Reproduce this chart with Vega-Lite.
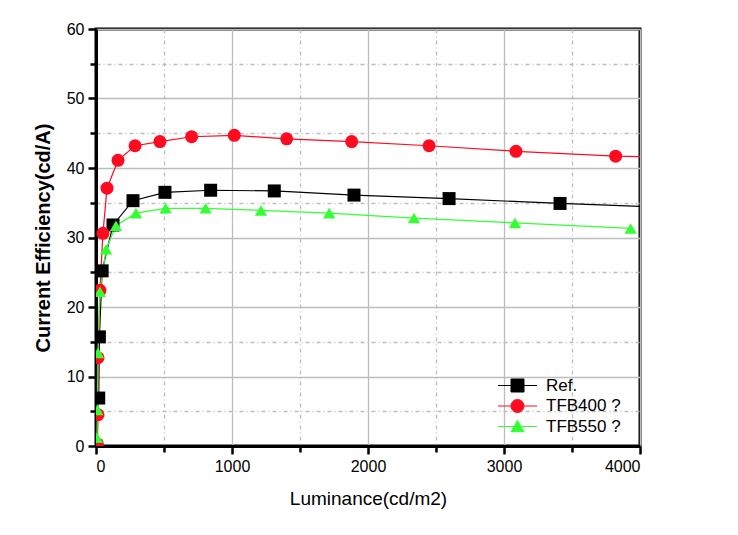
{
  "$schema": "https://vega.github.io/schema/vega-lite/v6.json",
  "autosize": {"type": "none"},
  "width": 544,
  "height": 417,
  "padding": {"left": 96, "top": 29, "right": 98, "bottom": 89},
  "background": "white",
  "data": {
    "values": [
      {"s": "Ref.", "x": 20, "y": 6.9},
      {"s": "Ref.", "x": 25, "y": 15.7},
      {"s": "Ref.", "x": 45, "y": 25.2},
      {"s": "Ref.", "x": 125, "y": 31.8},
      {"s": "Ref.", "x": 272, "y": 35.3},
      {"s": "Ref.", "x": 507, "y": 36.5},
      {"s": "Ref.", "x": 843, "y": 36.8},
      {"s": "Ref.", "x": 1311, "y": 36.7},
      {"s": "Ref.", "x": 1897, "y": 36.1},
      {"s": "Ref.", "x": 2596, "y": 35.6},
      {"s": "Ref.", "x": 3412, "y": 34.9},
      {"s": "Ref.", "x": 4400, "y": 34.2},
      {"s": "TFB400 ?", "x": 10, "y": 0.3},
      {"s": "TFB400 ?", "x": 15, "y": 4.5},
      {"s": "TFB400 ?", "x": 15, "y": 12.7},
      {"s": "TFB400 ?", "x": 29, "y": 22.4},
      {"s": "TFB400 ?", "x": 51, "y": 30.6},
      {"s": "TFB400 ?", "x": 81, "y": 37.1},
      {"s": "TFB400 ?", "x": 162, "y": 41.1},
      {"s": "TFB400 ?", "x": 287, "y": 43.2},
      {"s": "TFB400 ?", "x": 470, "y": 43.8},
      {"s": "TFB400 ?", "x": 703, "y": 44.5},
      {"s": "TFB400 ?", "x": 1017, "y": 44.7},
      {"s": "TFB400 ?", "x": 1402, "y": 44.2},
      {"s": "TFB400 ?", "x": 1880, "y": 43.8},
      {"s": "TFB400 ?", "x": 2449, "y": 43.2},
      {"s": "TFB400 ?", "x": 3088, "y": 42.4},
      {"s": "TFB400 ?", "x": 3821, "y": 41.7},
      {"s": "TFB400 ?", "x": 4400, "y": 41.5},
      {"s": "TFB550 ?", "x": 7, "y": 1.2},
      {"s": "TFB550 ?", "x": 10, "y": 5.2},
      {"s": "TFB550 ?", "x": 15, "y": 13.4},
      {"s": "TFB550 ?", "x": 29, "y": 22.2},
      {"s": "TFB550 ?", "x": 74, "y": 28.3},
      {"s": "TFB550 ?", "x": 147, "y": 31.7},
      {"s": "TFB550 ?", "x": 294, "y": 33.5},
      {"s": "TFB550 ?", "x": 512, "y": 34.2},
      {"s": "TFB550 ?", "x": 806, "y": 34.2},
      {"s": "TFB550 ?", "x": 1213, "y": 33.9},
      {"s": "TFB550 ?", "x": 1715, "y": 33.5},
      {"s": "TFB550 ?", "x": 2338, "y": 32.8},
      {"s": "TFB550 ?", "x": 3081, "y": 32.1},
      {"s": "TFB550 ?", "x": 3931, "y": 31.3}
    ]
  },
  "encoding": {
    "x": {
      "field": "x", "type": "quantitative",
      "scale": {"domain": [0, 4000], "nice": false, "zero": false},
      "axis": {
        "title": "Luminance(cd/m2)",
        "values": [0, 500, 1000, 1500, 2000, 2500, 3000, 3500, 4000],
        "format": "d",
        "labelExpr": "datum.value % 1000 === 0 ? datum.label : ''",
        "tickSize": {"condition": {"test": "datum.value % 1000 !== 0", "value": 6}, "value": 8},
        "gridDash": {"condition": {"test": "datum.value % 1000 !== 0", "value": [4, 3, 1, 3]}, "value": []},
        "labelPadding": 4,
        "titlePadding": 15,
        "titleFontSize": 19,
        "titleFontWeight": "normal"
      }
    },
    "y": {
      "field": "y", "type": "quantitative",
      "scale": {"domain": [0, 60], "nice": false},
      "axis": {
        "title": "Current Efficiency(cd/A)",
        "values": [0, 5, 10, 15, 20, 25, 30, 35, 40, 45, 50, 55, 60],
        "labelExpr": "datum.value % 10 === 0 ? datum.label : ''",
        "tickSize": {"condition": {"test": "datum.value % 10 !== 0", "value": 6}, "value": 8},
        "gridDash": {"condition": {"test": "datum.value % 10 !== 0", "value": [4, 3, 1, 3]}, "value": []},
        "labelPadding": 4,
        "titlePadding": 13,
        "titleFontSize": 20,
        "titleFontWeight": "bold"
      }
    },
    "color": {
      "field": "s", "type": "nominal",
      "scale": {"domain": ["Ref.", "TFB400 ?", "TFB550 ?"], "range": ["#000000", "#ff0a1e", "#33ff33"]},
      "legend": {
        "title": null,
        "orient": "none",
        "legendX": 413,
        "legendY": 348,
        "symbolSize": 169,
        "symbolType": "square",
        "labelOffset": 20,
        "rowPadding": 2.5,
        "labelFontSize": 17,
        "labelColor": "black",
        "encode": {
          "symbols": {
            "update": {
              "shape": {"signal": "datum.value === 'Ref.' ? 'M-3,0H3M-1,-1H1V1H-1Z' : datum.value === 'TFB400 ?' ? 'M-3,0H3M1,0A1,1 0 1,1 -1,0A1,1 0 1,1 1,0Z' : 'M-3,0H3M0,-0.95L1,0.8H-1Z'"},
              "fill": {"signal": "scale('color', datum.value)"},
              "stroke": {"signal": "scale('color', datum.value)"},
              "strokeWidth": {"value": 1},
              "opacity": {"value": 1}
            }
          }
        }
      }
    }
  },
  "layer": [
    {
      "mark": {"type": "line", "strokeWidth": 1.2, "clip": true},
      "encoding": {"order": {"field": "x", "type": "quantitative"}}
    },
    {
      "transform": [{"filter": "datum.s === 'Ref.'"}],
      "mark": {"type": "point", "shape": "square", "filled": true, "opacity": 1, "size": 169, "clip": true}
    },
    {
      "transform": [{"filter": "datum.s === 'TFB400 ?'"}],
      "mark": {"type": "point", "shape": "circle", "filled": true, "opacity": 1, "size": 169, "clip": true}
    },
    {
      "transform": [{"filter": "datum.s === 'TFB550 ?'"}],
      "mark": {"type": "point", "shape": "triangle-up", "filled": true, "opacity": 1, "size": 150, "clip": true}
    }
  ],
  "config": {
    "view": {"stroke": "#000000", "strokeWidth": 3},
    "axis": {
      "domainColor": "#000000",
      "domainWidth": 3,
      "tickColor": "#000000",
      "tickWidth": 2.5,
      "gridColor": "#bdbdbd",
      "gridWidth": 1.3,
      "labelFont": "Liberation Sans",
      "labelFontSize": 16,
      "labelColor": "#000000",
      "titleFont": "Liberation Sans",
      "titleColor": "#000000"
    },
    "legend": {"labelFont": "Liberation Sans"}
  }
}
